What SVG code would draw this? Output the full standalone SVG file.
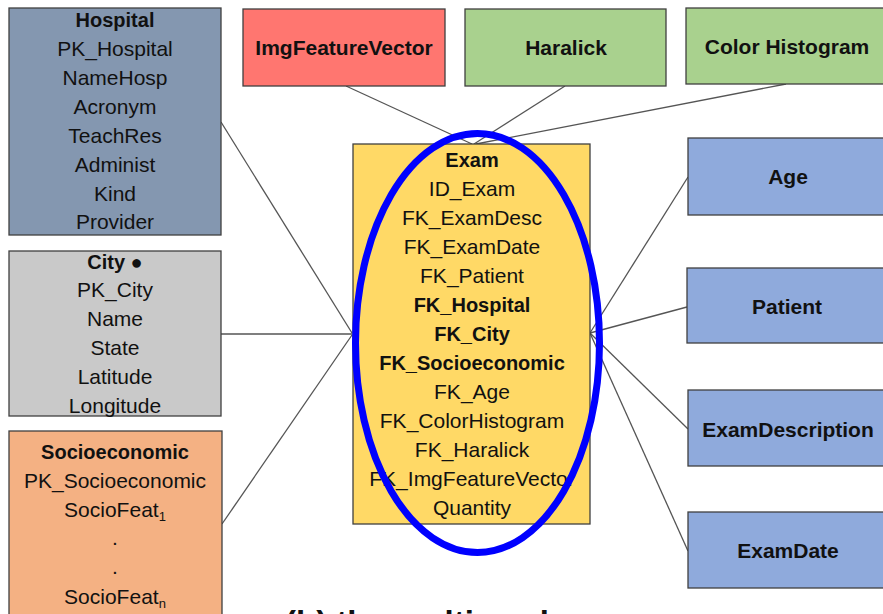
<svg xmlns="http://www.w3.org/2000/svg" width="883" height="614" viewBox="0 0 883 614">
  <style>
    .box { stroke: #404040; stroke-width: 1.3; }
    .t { font-family: "Liberation Sans", Arial, sans-serif; font-size: 21px; fill: #111; text-anchor: middle; }
    .b { font-weight: bold; font-size: 20px; }
    .h { font-family: "Liberation Sans", Arial, sans-serif; font-size: 21px; font-weight: bold; fill: #111; text-anchor: middle; }
    .link { stroke: #555; stroke-width: 1.3; fill: none; }
  </style>
  <rect width="883" height="614" fill="#fff"/>

  <!-- relationship lines -->
  <g id="connectors">
    <line class="link" x1="221" y1="122" x2="352" y2="333"/>
    <line class="link" x1="221" y1="334" x2="352" y2="334"/>
    <line class="link" x1="222" y1="524" x2="352" y2="335"/>
    <line class="link" x1="346" y1="86" x2="472" y2="144"/>
    <line class="link" x1="565" y1="86" x2="474" y2="144"/>
    <line class="link" x1="786" y1="84" x2="476" y2="144"/>
    <line class="link" x1="688" y1="177" x2="590" y2="333"/>
    <line class="link" x1="687" y1="307" x2="590" y2="333"/>
    <line class="link" x1="688" y1="429" x2="590" y2="333"/>
    <line class="link" x1="688" y1="551" x2="590" y2="333"/>
  </g>

  <!-- dimension tables, left column -->
  <g id="hospital">
    <rect class="box" x="9" y="8" width="212" height="227" fill="#8497B0"/>
    <text class="t b" x="115" y="27">Hospital</text>
    <text class="t" x="115" y="56">PK_Hospital</text>
    <text class="t" x="115" y="85">NameHosp</text>
    <text class="t" x="115" y="114">Acronym</text>
    <text class="t" x="115" y="143">TeachRes</text>
    <text class="t" x="115" y="172">Administ</text>
    <text class="t" x="115" y="201">Kind</text>
    <text class="t" x="115" y="229">Provider</text>
  </g>
  <g id="city">
    <rect class="box" x="9" y="251" width="212" height="165" fill="#C9C9C9"/>
    <text class="t b" x="115" y="269">City ●</text>
    <text class="t" x="115" y="297">PK_City</text>
    <text class="t" x="115" y="326">Name</text>
    <text class="t" x="115" y="355">State</text>
    <text class="t" x="115" y="384">Latitude</text>
    <text class="t" x="115" y="413">Longitude</text>
  </g>
  <g id="socioeconomic">
    <rect class="box" x="9" y="431" width="213" height="200" fill="#F4B183"/>
    <text class="t b" x="115" y="459">Socioeconomic</text>
    <text class="t" x="115" y="488">PK_Socioeconomic</text>
    <text class="t" x="115" y="517">SocioFeat<tspan font-size="13" dy="4">1</tspan></text>
    <text class="t" x="115" y="545">.</text>
    <text class="t" x="115" y="574">.</text>
    <text class="t" x="115" y="604">SocioFeat<tspan font-size="13" dy="4">n</tspan></text>
  </g>

  <!-- image feature tables, top row -->
  <g id="imgfeaturevector">
    <rect class="box" x="243" y="9" width="202" height="77" fill="#FF7670"/>
    <text class="h" x="344" y="55">ImgFeatureVector</text>
  </g>
  <g id="haralick">
    <rect class="box" x="465" y="9" width="201" height="77" fill="#A9D18E"/>
    <text class="h" x="566" y="55">Haralick</text>
  </g>
  <g id="colorhistogram">
    <rect class="box" x="686" y="8" width="202" height="76" fill="#A9D18E"/>
    <text class="h" x="787" y="54">Color Histogram</text>
  </g>

  <!-- dimension tables, right column -->
  <g id="age">
    <rect class="box" x="688" y="138" width="200" height="77" fill="#8FAADC"/>
    <text class="h" x="788" y="184">Age</text>
  </g>
  <g id="patient">
    <rect class="box" x="687" y="268" width="201" height="75" fill="#8FAADC"/>
    <text class="h" x="787" y="314">Patient</text>
  </g>
  <g id="examdescription">
    <rect class="box" x="688" y="390" width="200" height="76" fill="#8FAADC"/>
    <text class="h" x="788" y="437">ExamDescription</text>
  </g>
  <g id="examdate">
    <rect class="box" x="688" y="512" width="200" height="76" fill="#8FAADC"/>
    <text class="h" x="788" y="558">ExamDate</text>
  </g>

  <!-- fact table -->
  <g id="exam">
    <rect class="box" x="353" y="144" width="237" height="380" fill="#FFD966"/>
    <text class="t b" x="472" y="167">Exam</text>
    <text class="t" x="472" y="196">ID_Exam</text>
    <text class="t" x="472" y="225">FK_ExamDesc</text>
    <text class="t" x="472" y="254">FK_ExamDate</text>
    <text class="t" x="472" y="283">FK_Patient</text>
    <text class="t b" x="472" y="312">FK_Hospital</text>
    <text class="t b" x="472" y="341">FK_City</text>
    <text class="t b" x="472" y="370">FK_Socioeconomic</text>
    <text class="t" x="472" y="399">FK_Age</text>
    <text class="t" x="472" y="428">FK_ColorHistogram</text>
    <text class="t" x="472" y="457">FK_Haralick</text>
    <text class="t" x="472" y="486">FK_ImgFeatureVector</text>
    <text class="t" x="472" y="515">Quantity</text>
  </g>

  <!-- highlight around the fact table -->
  <ellipse id="highlight" cx="477.5" cy="343" rx="122" ry="209.5" fill="none" stroke="#0000FF" stroke-width="7"/>

  <!-- caption, mostly below the visible area -->
  <text x="285" y="634" font-family="Liberation Sans, Arial, sans-serif" font-size="33" font-weight="bold" fill="#111">(b) the multi-scale</text>
</svg>
